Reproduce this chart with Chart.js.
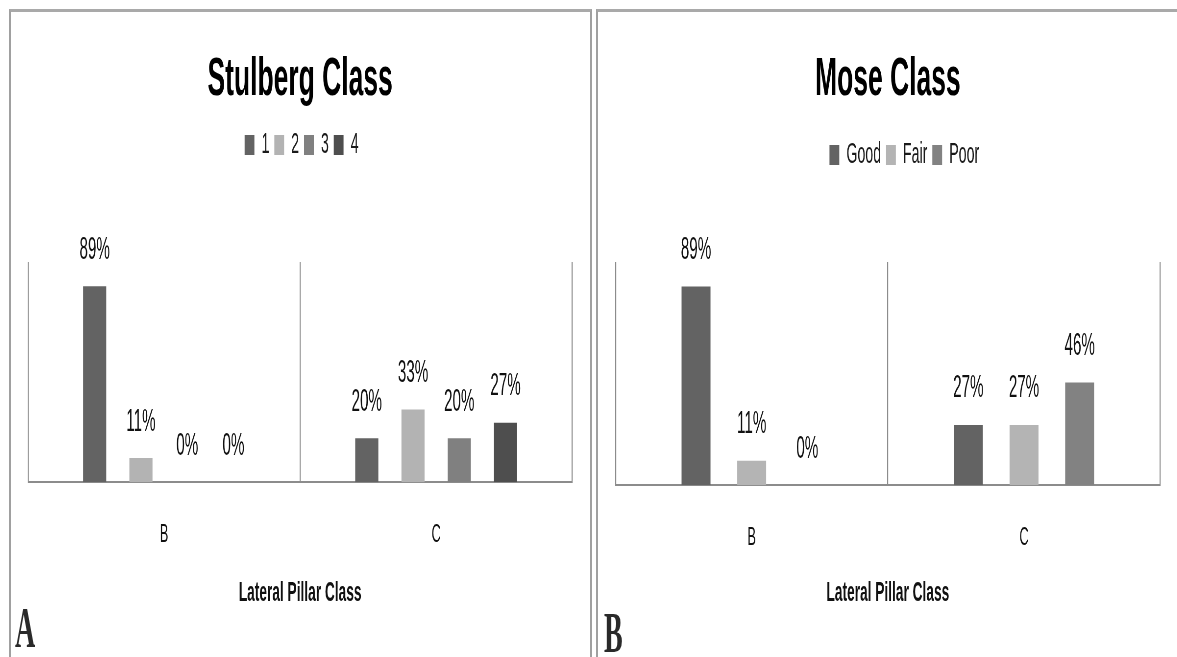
<!DOCTYPE html>
<html><head><meta charset="utf-8">
<script src="https://cdn.jsdelivr.net/npm/chart.js@4.4.1/dist/chart.umd.min.js"></script>
<style>
html,body{margin:0;padding:0;background:#fff;width:1177px;height:657px;overflow:hidden;position:relative;}
.panel{position:absolute;top:9px;height:660px;border-top:3px solid #a9a9a9;border-left:2px solid #a0a0a0;box-sizing:border-box;}
#p1{left:9px;width:583px;border-right:2px solid #a0a0a0;}
#p2{left:596px;width:620px;}
.inner{position:absolute;left:0;top:0;width:1182px;height:645px;transform:scaleX(0.49);transform-origin:0 0;}
.tag{position:absolute;font-family:'Liberation Serif','Times New Roman',serif;font-weight:bold;font-size:56px;line-height:1;color:#2a2a2a;transform:scaleX(0.5);transform-origin:0 0;}
</style></head>
<body>
<div class="panel" id="p1"><div class="inner"><canvas id="c1" width="1182" height="645"></canvas></div></div>
<div class="panel" id="p2"><div class="inner"><canvas id="c2" width="1182" height="645"></canvas></div></div>
<div class="tag" style="left:15px;top:600px;">A</div>
<div class="tag" style="left:604px;top:605px;">B</div>
<script>
// ---- data ----
const lateralClasses = ['B', 'C'];
const stulbergNames = ['1', '2', '3', '4'];
const stulberg1 = [89, 20];
const stulberg2 = [11, 33];
const stulberg3 = [0, 20];
const stulberg4 = [0, 27];
const moseNames = ['Good', 'Fair', 'Poor'];
const moseGood = [89, 27];
const moseFair = [11, 27];
const mosePoor = [0, 46];

const FONT = "'Liberation Sans', Arial, sans-serif";

const valueLabels = {
  id: 'valueLabels',
  afterDatasetsDraw(chart, args, opts) {
    const ctx = chart.ctx;
    ctx.save();
    ctx.font = opts.size + 'px ' + FONT;
    ctx.fillStyle = opts.color;
    ctx.textAlign = 'center';
    ctx.textBaseline = 'middle';
    chart.data.datasets.forEach((ds, i) => {
      const meta = chart.getDatasetMeta(i);
      meta.data.forEach((bar, j) => {
        ctx.fillText(ds.data[j] + '%', bar.x, bar.y - opts.offset);
      });
    });
    ctx.restore();
  }
};
const legendSpacer = {
  id: 'legendSpacer',
  beforeInit(chart, args, opts) {
    const fit = chart.legend.fit;
    chart.legend.fit = function () { fit.call(this); this.height += opts.extra; };
  },
  afterLayout(chart, args, opts) {
    chart.legend.left += opts.shift;
    chart.legend.right += opts.shift;
  }
};

function makeChart(id, title, names, series, colors, cfg) {
  return new Chart(document.getElementById(id), {
    type: 'bar',
    data: {
      labels: lateralClasses,
      datasets: names.map((n, i) => ({
        label: n, data: series[i], backgroundColor: colors[i], borderWidth: 0,
        categoryPercentage: cfg.catPct, barPercentage: cfg.barPct
      }))
    },
    options: {
      responsive: false, animation: false,
      layout: { padding: { left: cfg.padLeft, right: cfg.padRight, top: 0, bottom: 47 } },
      plugins: {
        title: { display: true, text: title, color: '#000',
          font: { family: FONT, size: 54, weight: 'bold' }, padding: { top: 35.6, bottom: cfg.titleBottom } },
        legend: { display: true, position: 'top',
          labels: { font: { family: FONT, size: 29 }, color: '#1a1a1a', boxWidth: 20, boxHeight: 20, padding: 10 } },
        tooltip: { enabled: false },
        legendSpacer: { extra: cfg.legendExtra, shift: cfg.legendShift },
        valueLabels: { size: 31, offset: 36, color: '#111' }
      },
      scales: {
        x: {
          grid: { offset: true, drawTicks: false, color: '#8c8c8c', lineWidth: 2.2 },
          border: { display: true, color: '#8c8c8c', width: 2 },
          ticks: { padding: 37.4, font: { family: FONT, size: 26 }, color: '#111' },
          title: { display: true, text: 'Lateral Pillar Class', color: '#111',
            font: { family: FONT, size: 28, weight: 'bold' }, padding: { top: cfg.axisTitleTop, bottom: 0 } }
        },
        y: { display: false, min: 0, max: 100 }
      }
    },
    plugins: [valueLabels, legendSpacer]
  });
}

makeChart('c1', 'Stulberg Class', stulbergNames,
  [stulberg1, stulberg2, stulberg3, stulberg4],
  ['#636363', '#b3b3b3', '#808080', '#4e4e4e'],
  { catPct: 0.68, barPct: 0.5, padLeft: 34.7, padRight: 36.7, titleBottom: 8.1, legendExtra: 92.5, legendShift: 3, axisTitleTop: -11.8 });

makeChart('c2', 'Mose Class', moseNames,
  [moseGood, moseFair, mosePoor],
  ['#636363', '#b4b4b4', '#828282'],
  { catPct: 0.613, barPct: 0.52, padLeft: 35.7, padRight: 34.7, titleBottom: 18.1, legendExtra: 82.5, legendShift: 33.7, axisTitleTop: -14.8 });
</script>
</body></html>
